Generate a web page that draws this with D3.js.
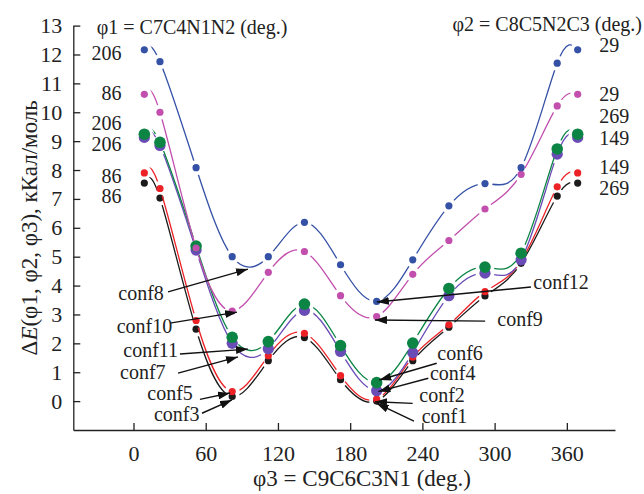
<!DOCTYPE html>
<html>
<head>
<meta charset="utf-8">
<script src="https://cdn.jsdelivr.net/npm/d3@7"></script>
<style>
  html, body { margin: 0; padding: 0; background: #fff; }
  svg { display: block; }
</style>
</head>
<body>
<svg id="chart" width="644" height="494"></svg>
<script>
// Torsion angle φ3 (deg.) at which each conformer energy was computed
const phi3 = [9, 22, 52, 82, 112, 142, 172, 202, 232, 262, 292, 322, 352, 369];

// Relative energies ΔE, kcal/mol, one array per conformer family
const conf12 = [12.16, 11.75, 8.08, 5.0, 5.0, 6.19, 4.72, 3.45, 4.89, 6.76, 7.53, 8.08, 11.7, 12.16];
const conf9  = [10.62, 10.0, 5.3, 3.12, 4.46, 5.18, 3.65, 2.93, 4.39, 5.56, 6.65, 7.85, 10.22, 10.62];
const conf6  = [9.24, 8.96, 5.37, 2.21, 2.06, 3.36, 1.92, 0.64, 2.01, 3.90, 4.64, 5.12, 8.73, 9.24];
const conf4  = [9.13, 8.85, 5.23, 2.0, 1.81, 3.14, 1.72, 0.36, 1.68, 3.65, 4.43, 4.89, 8.55, 9.13];
const conf2  = [7.90, 7.36, 2.79, 0.33, 1.57, 2.35, 0.88, 0.07, 1.52, 2.64, 3.79, 4.85, 7.42, 7.90];
const conf1  = [7.55, 7.03, 2.49, 0.16, 1.40, 2.20, 0.74, 0.0, 1.40, 2.56, 3.64, 4.77, 7.10, 7.55];

// φ1 values at the left end and φ2 values at the right end of each curve
const phi1Labels = ["206", "86", "206", "206", "86", "86"];
const phi1LabelY = [12.04, 10.66, 9.62, 8.90, 7.77, 7.08];
const phi2Labels = ["29", "29", "269", "149", "149", "269"];
const phi2LabelY = [12.30, 10.62, 9.84, 9.10, 8.10, 7.38];

// Tick values
const xTicks = [0, 60, 120, 180, 240, 300, 360];
const yTicks = [0, 1, 2, 3, 4, 5, 6, 7, 8, 9, 10, 11, 12, 13];

// Conformer callouts: label position, arrow start and arrow tip (data units)
const callouts = [
  { name: "conf8",  tx: -12.6, ty: 3.50, x0: 28.7,  y0: 3.78, x1: 95.1,  y1: 4.57 },
  { name: "conf10", tx: -14.0, ty: 2.35, x0: 30.3,  y0: 2.70, x1: 86.0,  y1: 3.08 },
  { name: "conf11", tx: -8.5,  ty: 1.54, x0: 38.6,  y0: 1.63, x1: 95.1,  y1: 1.80 },
  { name: "conf7",  tx: -11.2, ty: 0.75, x0: 37.0,  y0: 0.97, x1: 86.8,  y1: 1.53 },
  { name: "conf5",  tx: 11.5,  ty: 0.03, x0: 55.2,  y0: 0.06, x1: 80.2,  y1: 0.28 },
  { name: "conf3",  tx: 17.0,  ty: -0.70, x0: 56.9, y0: -0.42, x1: 81.8, y1: 0.04 },
  { name: "conf12", tx: 332.1, ty: 3.87, x0: 330.2, y0: 3.95, x1: 202.2, y1: 3.43 },
  { name: "conf9",  tx: 302.2, ty: 2.60, x0: 292.1, y0: 2.77, x1: 200.6, y1: 2.81 },
  { name: "conf6",  tx: 252.4, ty: 1.42, x0: 251.9, y0: 1.31, x1: 204.2, y1: 0.73 },
  { name: "conf4",  tx: 246.3, ty: 0.73, x0: 244.9, y0: 0.79, x1: 203.4, y1: 0.33 },
  { name: "conf2",  tx: 237.4, ty: -0.04, x0: 231.9, y0: -0.08, x1: 200.6, y1: -0.02 },
  { name: "conf1",  tx: 239.4, ty: -0.77, x0: 233.0, y0: -0.69, x1: 202.0, y1: -0.08 }
];

// Series styling, drawn bottom to top
const series = [
  { key: "c1",  values: conf1,  color: "#1b1b1b", r: 3.6, gap: 7.5 },
  { key: "c2",  values: conf2,  color: "#ec2227", r: 3.6, gap: 7.5 },
  { key: "c4",  values: conf4,  color: "#6a4cb6", r: 5.6, gap: 9.5 },
  { key: "c6",  values: conf6,  color: "#0b8444", r: 5.8, gap: 9.5 },
  { key: "c9",  values: conf9,  color: "#c24fae", r: 3.6, gap: 7.5 },
  { key: "c12", values: conf12, color: "#3551a6", r: 3.6, gap: 7.5 }
];

const FONT = "'Liberation Serif', 'DejaVu Serif', 'Noto Serif', 'Nimbus Roman', FreeSerif, 'Times New Roman', Times, serif";

const svg = d3.select("#chart");
const margin = { left: 73.3, right: 29, top: 25.6, bottom: 64 };
const W = 644, H = 494;

const x = d3.scaleLinear().domain([-50, 400]).range([margin.left, W - margin.right]);
const y = d3.scaleLinear().domain([-1, 13]).range([H - margin.bottom, margin.top]);

const defs = svg.append("defs");
defs.append("marker")
  .attr("id", "arrowhead")
  .attr("viewBox", "0 0 12 8")
  .attr("refX", 12).attr("refY", 4)
  .attr("markerUnits", "userSpaceOnUse")
  .attr("markerWidth", 12).attr("markerHeight", 8)
  .attr("orient", "auto")
  .append("path")
  .attr("d", "M0,0 L12,4 L0,8 Z")
  .attr("fill", "#111");

// Axes: left and bottom only, ticks pointing inward
const yAxis = d3.axisLeft(y).tickValues(yTicks).tickSizeInner(-7).tickSizeOuter(0).tickPadding(11);
const xAxis = d3.axisBottom(x).tickValues(xTicks).tickSizeInner(-7).tickSizeOuter(0).tickPadding(15);

const gy = svg.append("g").attr("transform", `translate(${margin.left},0)`).call(yAxis);
const gx = svg.append("g").attr("transform", `translate(0,${H - margin.bottom})`).call(xAxis);
[gx, gy].forEach(g => {
  g.attr("font-family", FONT).attr("font-size", 22);
  g.selectAll("path.domain").attr("stroke", "#222").attr("stroke-width", 1.3);
  g.selectAll(".tick line").attr("stroke", "#222").attr("stroke-width", 1.3);
  g.selectAll(".tick text").attr("fill", "#222");
});

// Curves with a small gap around each point
const line = d3.line()
  .x((d, i) => x(phi3[i]))
  .y(d => y(d))
  .curve(d3.curveNatural);

series.forEach(s => {
  const m = defs.append("mask")
    .attr("id", "mask-" + s.key)
    .attr("maskUnits", "userSpaceOnUse")
    .attr("x", 0).attr("y", 0).attr("width", W).attr("height", H);
  m.append("rect").attr("width", W).attr("height", H).attr("fill", "#fff");
  m.selectAll("circle").data(s.values).enter().append("circle")
    .attr("cx", (d, i) => x(phi3[i]))
    .attr("cy", d => y(d))
    .attr("r", s.gap)
    .attr("fill", "#000");
});

const gSeries = svg.append("g");
series.forEach(s => {
  const g = gSeries.append("g");
  g.append("path")
    .datum(s.values)
    .attr("d", line)
    .attr("fill", "none")
    .attr("stroke", s.color)
    .attr("stroke-width", 1.3)
    .attr("mask", `url(#mask-${s.key})`);
  g.selectAll("circle").data(s.values).enter().append("circle")
    .attr("cx", (d, i) => x(phi3[i]))
    .attr("cy", d => y(d))
    .attr("r", s.r)
    .attr("fill", s.color);
});

// φ1 / φ2 end labels
const gLab = svg.append("g").attr("font-family", FONT).attr("font-size", 20).attr("fill", "#222");
gLab.selectAll("text.p1").data(phi1Labels).enter().append("text")
  .attr("class", "p1")
  .attr("x", x(-10))
  .attr("y", (d, i) => y(phi1LabelY[i]))
  .attr("dy", "0.33em")
  .attr("text-anchor", "end")
  .text(d => d);
gLab.selectAll("text.p2").data(phi2Labels).enter().append("text")
  .attr("class", "p2")
  .attr("x", x(387))
  .attr("y", (d, i) => y(phi2LabelY[i]))
  .attr("dy", "0.33em")
  .attr("text-anchor", "start")
  .text(d => d);

svg.append("text")
  .attr("x", x(-30.5)).attr("y", 34)
  .attr("font-family", FONT).attr("font-size", 20).attr("fill", "#222")
  .text("φ1 = C7C4N1N2 (deg.)");
svg.append("text")
  .attr("x", 642).attr("y", 31)
  .attr("text-anchor", "end")
  .attr("font-family", FONT).attr("font-size", 20).attr("fill", "#222")
  .text("φ2 = C8C5N2C3 (deg.)");

// Callout arrows and names
const gCall = svg.append("g");
gCall.selectAll("line").data(callouts).enter().append("line")
  .attr("x1", d => x(d.x0)).attr("y1", d => y(d.y0))
  .attr("x2", d => x(d.x1)).attr("y2", d => y(d.y1))
  .attr("stroke", "#111").attr("stroke-width", 1.4)
  .attr("marker-end", "url(#arrowhead)");
gCall.selectAll("text").data(callouts).enter().append("text")
  .attr("x", d => x(d.tx)).attr("y", d => y(d.ty))
  .attr("font-family", FONT).attr("font-size", 20).attr("fill", "#222")
  .text(d => d.name);

// Axis titles
const yt = svg.append("text")
  .attr("transform", `translate(37,${y(6)}) rotate(-90)`)
  .attr("text-anchor", "middle")
  .attr("font-family", FONT).attr("font-size", 23).attr("fill", "#222");
yt.append("tspan").text("Δ");
yt.append("tspan").attr("font-style", "italic").text("E");
yt.append("tspan").text("(φ1, φ2, φ3), кКал/моль");

svg.append("text")
  .attr("x", 362).attr("y", 486)
  .attr("text-anchor", "middle")
  .attr("font-family", FONT).attr("font-size", 23).attr("fill", "#222")
  .text("φ3 = C9C6C3N1 (deg.)");
</script>
</body>
</html>
